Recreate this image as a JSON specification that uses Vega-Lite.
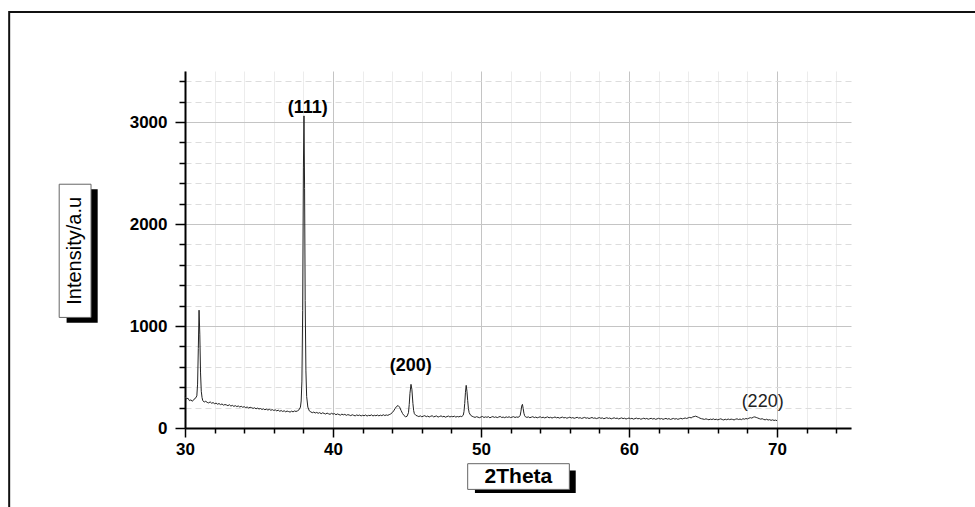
{
  "$schema": "https://vega.github.io/schema/vega-lite/v6.json",
  "width": 666,
  "height": 357,
  "autosize": {"type": "none"},
  "padding": {"left": 185, "top": 71, "right": 124, "bottom": 79},
  "background": "white",
  "config": {"view": {"stroke": null}, "font": "Liberation Sans"},
  "layer": [
    {
      "data": {"values": [{}]},
      "mark": {"type": "rect", "fill": "transparent", "stroke": "#111", "strokeWidth": 2},
      "encoding": {
        "x": {"datum": 18.12, "type": "quantitative"},
        "x2": {"datum": 85},
        "y": {"datum": 4079, "type": "quantitative"},
        "y2": {"datum": -1000}
      }
    },
    {
      "data": {"values": [{}]},
      "mark": {"type": "rect", "fill": "black"},
      "encoding": {
        "x": {"datum": 22.0, "type": "quantitative"},
        "x2": {"datum": 24.1},
        "y": {"datum": 2341, "type": "quantitative"},
        "y2": {"datum": 1031}
      }
    },
    {
      "data": {"values": [{}]},
      "mark": {"type": "rect", "fill": "white", "stroke": "#666", "strokeWidth": 1},
      "encoding": {
        "x": {"datum": 21.5, "type": "quantitative"},
        "x2": {"datum": 23.65},
        "y": {"datum": 2390, "type": "quantitative"},
        "y2": {"datum": 1084}
      }
    },
    {
      "data": {"values": [{}]},
      "mark": {"type": "rect", "fill": "black"},
      "encoding": {
        "x": {"datum": 49.59, "type": "quantitative"},
        "x2": {"datum": 56.4},
        "y": {"datum": -416, "type": "quantitative"},
        "y2": {"datum": -638}
      }
    },
    {
      "data": {"values": [{}]},
      "mark": {"type": "rect", "fill": "white", "stroke": "#666", "strokeWidth": 1},
      "encoding": {
        "x": {"datum": 49.1, "type": "quantitative"},
        "x2": {"datum": 55.97},
        "y": {"datum": -350, "type": "quantitative"},
        "y2": {"datum": -602}
      }
    },
    {
      "data": {"values": [{"title": "Intensity/a.u"}]},
      "mark": {"type": "text", "angle": 270, "font": "Liberation Sans", "fontSize": 20, "fontWeight": "normal", "color": "black", "align": "center", "baseline": "middle"},
      "encoding": {
        "x": {"datum": 22.58, "type": "quantitative"},
        "y": {"datum": 1737, "type": "quantitative"},
        "text": {"field": "title"}
      }
    },
    {
      "data": {"values": [{"title": "2Theta"}]},
      "mark": {"type": "text", "font": "Liberation Sans", "fontSize": 21, "fontWeight": "bold", "color": "black", "align": "center", "baseline": "middle"},
      "encoding": {
        "x": {"datum": 52.53, "type": "quantitative"},
        "y": {"datum": -476, "type": "quantitative"},
        "text": {"field": "title"}
      }
    },
    {
      "data": {"values": [
        {"twoTheta": 30.0, "intensity": 305}, {"twoTheta": 30.1, "intensity": 285}, {"twoTheta": 30.2, "intensity": 292}, {"twoTheta": 30.3, "intensity": 268}, {"twoTheta": 30.4, "intensity": 276}, {"twoTheta": 30.5, "intensity": 262}, {"twoTheta": 30.6, "intensity": 281}, {"twoTheta": 30.7, "intensity": 290}, {"twoTheta": 30.8, "intensity": 315},
        {"twoTheta": 30.85, "intensity": 430}, {"twoTheta": 30.9, "intensity": 780}, {"twoTheta": 30.95, "intensity": 1155}, {"twoTheta": 31.0, "intensity": 920}, {"twoTheta": 31.05, "intensity": 540}, {"twoTheta": 31.1, "intensity": 360}, {"twoTheta": 31.15, "intensity": 300},
        {"twoTheta": 31.2, "intensity": 268}, {"twoTheta": 31.3, "intensity": 255}, {"twoTheta": 31.4, "intensity": 262}, {"twoTheta": 31.5, "intensity": 251}, {"twoTheta": 31.6, "intensity": 246}, {"twoTheta": 31.7, "intensity": 256}, {"twoTheta": 31.8, "intensity": 243}, {"twoTheta": 31.9, "intensity": 249}, {"twoTheta": 32.0, "intensity": 238},
        {"twoTheta": 32.1, "intensity": 244}, {"twoTheta": 32.2, "intensity": 233}, {"twoTheta": 32.3, "intensity": 240}, {"twoTheta": 32.4, "intensity": 229}, {"twoTheta": 32.5, "intensity": 236}, {"twoTheta": 32.6, "intensity": 224}, {"twoTheta": 32.7, "intensity": 230}, {"twoTheta": 32.8, "intensity": 226}, {"twoTheta": 32.9, "intensity": 219}, {"twoTheta": 33.0, "intensity": 228},
        {"twoTheta": 33.1, "intensity": 215}, {"twoTheta": 33.2, "intensity": 222}, {"twoTheta": 33.3, "intensity": 212}, {"twoTheta": 33.4, "intensity": 219}, {"twoTheta": 33.5, "intensity": 210}, {"twoTheta": 33.6, "intensity": 216}, {"twoTheta": 33.7, "intensity": 206}, {"twoTheta": 33.8, "intensity": 213}, {"twoTheta": 33.9, "intensity": 203}, {"twoTheta": 34.0, "intensity": 209},
        {"twoTheta": 34.1, "intensity": 200}, {"twoTheta": 34.2, "intensity": 206}, {"twoTheta": 34.3, "intensity": 196}, {"twoTheta": 34.4, "intensity": 203}, {"twoTheta": 34.5, "intensity": 199}, {"twoTheta": 34.6, "intensity": 192}, {"twoTheta": 34.7, "intensity": 198}, {"twoTheta": 34.8, "intensity": 188}, {"twoTheta": 34.9, "intensity": 195}, {"twoTheta": 35.0, "intensity": 186},
        {"twoTheta": 35.1, "intensity": 191}, {"twoTheta": 35.2, "intensity": 182}, {"twoTheta": 35.3, "intensity": 188}, {"twoTheta": 35.4, "intensity": 179}, {"twoTheta": 35.5, "intensity": 185}, {"twoTheta": 35.6, "intensity": 176}, {"twoTheta": 35.7, "intensity": 183}, {"twoTheta": 35.8, "intensity": 174}, {"twoTheta": 35.9, "intensity": 180}, {"twoTheta": 36.0, "intensity": 172},
        {"twoTheta": 36.1, "intensity": 178}, {"twoTheta": 36.2, "intensity": 168}, {"twoTheta": 36.3, "intensity": 175}, {"twoTheta": 36.4, "intensity": 164}, {"twoTheta": 36.5, "intensity": 171}, {"twoTheta": 36.6, "intensity": 162}, {"twoTheta": 36.7, "intensity": 169}, {"twoTheta": 36.8, "intensity": 159}, {"twoTheta": 36.9, "intensity": 166}, {"twoTheta": 37.0, "intensity": 161},
        {"twoTheta": 37.1, "intensity": 156}, {"twoTheta": 37.2, "intensity": 165}, {"twoTheta": 37.3, "intensity": 158}, {"twoTheta": 37.4, "intensity": 167}, {"twoTheta": 37.5, "intensity": 162}, {"twoTheta": 37.6, "intensity": 168}, {"twoTheta": 37.7, "intensity": 178},
        {"twoTheta": 37.8, "intensity": 205}, {"twoTheta": 37.85, "intensity": 265}, {"twoTheta": 37.9, "intensity": 460}, {"twoTheta": 37.95, "intensity": 1150}, {"twoTheta": 38.0, "intensity": 2550}, {"twoTheta": 38.04, "intensity": 3060}, {"twoTheta": 38.08, "intensity": 2350}, {"twoTheta": 38.12, "intensity": 1250}, {"twoTheta": 38.17, "intensity": 560}, {"twoTheta": 38.22, "intensity": 310}, {"twoTheta": 38.3, "intensity": 205}, {"twoTheta": 38.4, "intensity": 168},
        {"twoTheta": 38.5, "intensity": 158}, {"twoTheta": 38.6, "intensity": 150}, {"twoTheta": 38.7, "intensity": 156}, {"twoTheta": 38.8, "intensity": 147}, {"twoTheta": 38.9, "intensity": 153}, {"twoTheta": 39.0, "intensity": 144}, {"twoTheta": 39.1, "intensity": 151}, {"twoTheta": 39.2, "intensity": 140}, {"twoTheta": 39.3, "intensity": 149}, {"twoTheta": 39.4, "intensity": 143},
        {"twoTheta": 39.5, "intensity": 137}, {"twoTheta": 39.6, "intensity": 146}, {"twoTheta": 39.7, "intensity": 139}, {"twoTheta": 39.8, "intensity": 134}, {"twoTheta": 39.9, "intensity": 144}, {"twoTheta": 40.0, "intensity": 136}, {"twoTheta": 40.1, "intensity": 141}, {"twoTheta": 40.2, "intensity": 130}, {"twoTheta": 40.3, "intensity": 138}, {"twoTheta": 40.4, "intensity": 132},
        {"twoTheta": 40.5, "intensity": 126}, {"twoTheta": 40.6, "intensity": 136}, {"twoTheta": 40.7, "intensity": 129}, {"twoTheta": 40.8, "intensity": 134}, {"twoTheta": 40.9, "intensity": 124}, {"twoTheta": 41.0, "intensity": 131}, {"twoTheta": 41.1, "intensity": 127}, {"twoTheta": 41.2, "intensity": 121}, {"twoTheta": 41.3, "intensity": 130}, {"twoTheta": 41.4, "intensity": 124},
        {"twoTheta": 41.5, "intensity": 119}, {"twoTheta": 41.6, "intensity": 128}, {"twoTheta": 41.7, "intensity": 122}, {"twoTheta": 41.8, "intensity": 127}, {"twoTheta": 41.9, "intensity": 118}, {"twoTheta": 42.0, "intensity": 125}, {"twoTheta": 42.1, "intensity": 120}, {"twoTheta": 42.2, "intensity": 128}, {"twoTheta": 42.3, "intensity": 117}, {"twoTheta": 42.4, "intensity": 124},
        {"twoTheta": 42.5, "intensity": 121}, {"twoTheta": 42.6, "intensity": 129}, {"twoTheta": 42.7, "intensity": 118}, {"twoTheta": 42.8, "intensity": 125}, {"twoTheta": 42.9, "intensity": 120}, {"twoTheta": 43.0, "intensity": 127}, {"twoTheta": 43.1, "intensity": 119}, {"twoTheta": 43.2, "intensity": 126}, {"twoTheta": 43.3, "intensity": 121}, {"twoTheta": 43.4, "intensity": 130},
        {"twoTheta": 43.5, "intensity": 122}, {"twoTheta": 43.6, "intensity": 128}, {"twoTheta": 43.7, "intensity": 124}, {"twoTheta": 43.8, "intensity": 131}, {"twoTheta": 43.9, "intensity": 138},
        {"twoTheta": 44.0, "intensity": 150}, {"twoTheta": 44.1, "intensity": 168}, {"twoTheta": 44.2, "intensity": 192}, {"twoTheta": 44.3, "intensity": 212}, {"twoTheta": 44.4, "intensity": 220}, {"twoTheta": 44.5, "intensity": 204}, {"twoTheta": 44.6, "intensity": 172}, {"twoTheta": 44.7, "intensity": 142}, {"twoTheta": 44.8, "intensity": 122}, {"twoTheta": 44.9, "intensity": 110},
        {"twoTheta": 45.0, "intensity": 114}, {"twoTheta": 45.1, "intensity": 150}, {"twoTheta": 45.15, "intensity": 230}, {"twoTheta": 45.2, "intensity": 340}, {"twoTheta": 45.27, "intensity": 428}, {"twoTheta": 45.33, "intensity": 380}, {"twoTheta": 45.4, "intensity": 240}, {"twoTheta": 45.45, "intensity": 170}, {"twoTheta": 45.5, "intensity": 140}, {"twoTheta": 45.6, "intensity": 124}, {"twoTheta": 45.7, "intensity": 118},
        {"twoTheta": 45.8, "intensity": 112}, {"twoTheta": 45.9, "intensity": 119}, {"twoTheta": 46.0, "intensity": 110}, {"twoTheta": 46.1, "intensity": 116}, {"twoTheta": 46.2, "intensity": 121}, {"twoTheta": 46.3, "intensity": 111}, {"twoTheta": 46.4, "intensity": 117}, {"twoTheta": 46.5, "intensity": 108}, {"twoTheta": 46.6, "intensity": 115}, {"twoTheta": 46.7, "intensity": 120},
        {"twoTheta": 46.8, "intensity": 109}, {"twoTheta": 46.9, "intensity": 114}, {"twoTheta": 47.0, "intensity": 118}, {"twoTheta": 47.1, "intensity": 107}, {"twoTheta": 47.2, "intensity": 113}, {"twoTheta": 47.3, "intensity": 119}, {"twoTheta": 47.4, "intensity": 110}, {"twoTheta": 47.5, "intensity": 115}, {"twoTheta": 47.6, "intensity": 106}, {"twoTheta": 47.7, "intensity": 112},
        {"twoTheta": 47.8, "intensity": 117}, {"twoTheta": 47.9, "intensity": 108}, {"twoTheta": 48.0, "intensity": 114}, {"twoTheta": 48.1, "intensity": 110}, {"twoTheta": 48.2, "intensity": 116}, {"twoTheta": 48.3, "intensity": 107}, {"twoTheta": 48.4, "intensity": 113}, {"twoTheta": 48.5, "intensity": 109}, {"twoTheta": 48.6, "intensity": 115}, {"twoTheta": 48.7, "intensity": 112},
        {"twoTheta": 48.8, "intensity": 125}, {"twoTheta": 48.85, "intensity": 160}, {"twoTheta": 48.9, "intensity": 240}, {"twoTheta": 48.95, "intensity": 350}, {"twoTheta": 49.0, "intensity": 418}, {"twoTheta": 49.05, "intensity": 360}, {"twoTheta": 49.1, "intensity": 270}, {"twoTheta": 49.15, "intensity": 190}, {"twoTheta": 49.2, "intensity": 150}, {"twoTheta": 49.3, "intensity": 125}, {"twoTheta": 49.4, "intensity": 115},
        {"twoTheta": 49.5, "intensity": 109}, {"twoTheta": 49.6, "intensity": 104}, {"twoTheta": 49.7, "intensity": 111}, {"twoTheta": 49.8, "intensity": 106}, {"twoTheta": 49.9, "intensity": 101}, {"twoTheta": 50.0, "intensity": 108}, {"twoTheta": 50.1, "intensity": 113}, {"twoTheta": 50.2, "intensity": 103}, {"twoTheta": 50.3, "intensity": 109}, {"twoTheta": 50.4, "intensity": 105},
        {"twoTheta": 50.5, "intensity": 111}, {"twoTheta": 50.6, "intensity": 100}, {"twoTheta": 50.7, "intensity": 107}, {"twoTheta": 50.8, "intensity": 112}, {"twoTheta": 50.9, "intensity": 104}, {"twoTheta": 51.0, "intensity": 109}, {"twoTheta": 51.1, "intensity": 102}, {"twoTheta": 51.2, "intensity": 108}, {"twoTheta": 51.3, "intensity": 113}, {"twoTheta": 51.4, "intensity": 103},
        {"twoTheta": 51.5, "intensity": 107}, {"twoTheta": 51.6, "intensity": 101}, {"twoTheta": 51.7, "intensity": 109}, {"twoTheta": 51.8, "intensity": 104}, {"twoTheta": 51.9, "intensity": 110}, {"twoTheta": 52.0, "intensity": 102}, {"twoTheta": 52.1, "intensity": 107}, {"twoTheta": 52.2, "intensity": 111}, {"twoTheta": 52.3, "intensity": 103}, {"twoTheta": 52.4, "intensity": 108},
        {"twoTheta": 52.5, "intensity": 105}, {"twoTheta": 52.6, "intensity": 112},
        {"twoTheta": 52.65, "intensity": 125}, {"twoTheta": 52.7, "intensity": 165}, {"twoTheta": 52.75, "intensity": 215}, {"twoTheta": 52.8, "intensity": 232}, {"twoTheta": 52.85, "intensity": 190}, {"twoTheta": 52.9, "intensity": 145}, {"twoTheta": 52.95, "intensity": 120}, {"twoTheta": 53.0, "intensity": 110},
        {"twoTheta": 53.1, "intensity": 104}, {"twoTheta": 53.2, "intensity": 109}, {"twoTheta": 53.3, "intensity": 101}, {"twoTheta": 53.4, "intensity": 106}, {"twoTheta": 53.5, "intensity": 111}, {"twoTheta": 53.6, "intensity": 102}, {"twoTheta": 53.7, "intensity": 107}, {"twoTheta": 53.8, "intensity": 100}, {"twoTheta": 53.9, "intensity": 105}, {"twoTheta": 54.0, "intensity": 110},
        {"twoTheta": 54.1, "intensity": 101}, {"twoTheta": 54.2, "intensity": 106}, {"twoTheta": 54.3, "intensity": 99}, {"twoTheta": 54.4, "intensity": 104}, {"twoTheta": 54.5, "intensity": 109}, {"twoTheta": 54.6, "intensity": 100}, {"twoTheta": 54.7, "intensity": 105}, {"twoTheta": 54.8, "intensity": 98}, {"twoTheta": 54.9, "intensity": 103}, {"twoTheta": 55.0, "intensity": 108},
        {"twoTheta": 55.1, "intensity": 100}, {"twoTheta": 55.2, "intensity": 104}, {"twoTheta": 55.3, "intensity": 97}, {"twoTheta": 55.4, "intensity": 102}, {"twoTheta": 55.5, "intensity": 107}, {"twoTheta": 55.6, "intensity": 99}, {"twoTheta": 55.7, "intensity": 103}, {"twoTheta": 55.8, "intensity": 96}, {"twoTheta": 55.9, "intensity": 101}, {"twoTheta": 56.0, "intensity": 106},
        {"twoTheta": 56.1, "intensity": 98}, {"twoTheta": 56.2, "intensity": 102}, {"twoTheta": 56.3, "intensity": 95}, {"twoTheta": 56.4, "intensity": 100}, {"twoTheta": 56.5, "intensity": 105}, {"twoTheta": 56.6, "intensity": 97}, {"twoTheta": 56.7, "intensity": 101}, {"twoTheta": 56.8, "intensity": 94}, {"twoTheta": 56.9, "intensity": 99}, {"twoTheta": 57.0, "intensity": 104},
        {"twoTheta": 57.1, "intensity": 96}, {"twoTheta": 57.2, "intensity": 100}, {"twoTheta": 57.3, "intensity": 93}, {"twoTheta": 57.4, "intensity": 98}, {"twoTheta": 57.5, "intensity": 103}, {"twoTheta": 57.6, "intensity": 95}, {"twoTheta": 57.7, "intensity": 99}, {"twoTheta": 57.8, "intensity": 92}, {"twoTheta": 57.9, "intensity": 97}, {"twoTheta": 58.0, "intensity": 102},
        {"twoTheta": 58.1, "intensity": 95}, {"twoTheta": 58.2, "intensity": 99}, {"twoTheta": 58.3, "intensity": 91}, {"twoTheta": 58.4, "intensity": 96}, {"twoTheta": 58.5, "intensity": 101}, {"twoTheta": 58.6, "intensity": 94}, {"twoTheta": 58.7, "intensity": 98}, {"twoTheta": 58.8, "intensity": 90}, {"twoTheta": 58.9, "intensity": 95}, {"twoTheta": 59.0, "intensity": 100},
        {"twoTheta": 59.1, "intensity": 93}, {"twoTheta": 59.2, "intensity": 97}, {"twoTheta": 59.3, "intensity": 89}, {"twoTheta": 59.4, "intensity": 94}, {"twoTheta": 59.5, "intensity": 99}, {"twoTheta": 59.6, "intensity": 92}, {"twoTheta": 59.7, "intensity": 96}, {"twoTheta": 59.8, "intensity": 88}, {"twoTheta": 59.9, "intensity": 93}, {"twoTheta": 60.0, "intensity": 98},
        {"twoTheta": 60.1, "intensity": 91}, {"twoTheta": 60.2, "intensity": 95}, {"twoTheta": 60.3, "intensity": 87}, {"twoTheta": 60.4, "intensity": 92}, {"twoTheta": 60.5, "intensity": 97}, {"twoTheta": 60.6, "intensity": 90}, {"twoTheta": 60.7, "intensity": 94}, {"twoTheta": 60.8, "intensity": 86}, {"twoTheta": 60.9, "intensity": 91}, {"twoTheta": 61.0, "intensity": 96},
        {"twoTheta": 61.1, "intensity": 89}, {"twoTheta": 61.2, "intensity": 94}, {"twoTheta": 61.3, "intensity": 86}, {"twoTheta": 61.4, "intensity": 91}, {"twoTheta": 61.5, "intensity": 95}, {"twoTheta": 61.6, "intensity": 88}, {"twoTheta": 61.7, "intensity": 93}, {"twoTheta": 61.8, "intensity": 85}, {"twoTheta": 61.9, "intensity": 90}, {"twoTheta": 62.0, "intensity": 95},
        {"twoTheta": 62.1, "intensity": 88}, {"twoTheta": 62.2, "intensity": 93}, {"twoTheta": 62.3, "intensity": 85}, {"twoTheta": 62.4, "intensity": 90}, {"twoTheta": 62.5, "intensity": 94}, {"twoTheta": 62.6, "intensity": 87}, {"twoTheta": 62.7, "intensity": 92}, {"twoTheta": 62.8, "intensity": 84}, {"twoTheta": 62.9, "intensity": 89}, {"twoTheta": 63.0, "intensity": 94},
        {"twoTheta": 63.1, "intensity": 87}, {"twoTheta": 63.2, "intensity": 92}, {"twoTheta": 63.3, "intensity": 85}, {"twoTheta": 63.4, "intensity": 90}, {"twoTheta": 63.5, "intensity": 95}, {"twoTheta": 63.6, "intensity": 89}, {"twoTheta": 63.7, "intensity": 94}, {"twoTheta": 63.8, "intensity": 98}, {"twoTheta": 63.9, "intensity": 93}, {"twoTheta": 64.0, "intensity": 100},
        {"twoTheta": 64.1, "intensity": 104}, {"twoTheta": 64.2, "intensity": 99}, {"twoTheta": 64.3, "intensity": 108}, {"twoTheta": 64.4, "intensity": 112}, {"twoTheta": 64.5, "intensity": 116}, {"twoTheta": 64.6, "intensity": 110}, {"twoTheta": 64.7, "intensity": 104}, {"twoTheta": 64.8, "intensity": 96}, {"twoTheta": 64.9, "intensity": 91}, {"twoTheta": 65.0, "intensity": 88},
        {"twoTheta": 65.1, "intensity": 84}, {"twoTheta": 65.2, "intensity": 90}, {"twoTheta": 65.3, "intensity": 85}, {"twoTheta": 65.4, "intensity": 81}, {"twoTheta": 65.5, "intensity": 87}, {"twoTheta": 65.6, "intensity": 83}, {"twoTheta": 65.7, "intensity": 89}, {"twoTheta": 65.8, "intensity": 82}, {"twoTheta": 65.9, "intensity": 86}, {"twoTheta": 66.0, "intensity": 80},
        {"twoTheta": 66.1, "intensity": 85}, {"twoTheta": 66.2, "intensity": 90}, {"twoTheta": 66.3, "intensity": 83}, {"twoTheta": 66.4, "intensity": 79}, {"twoTheta": 66.5, "intensity": 86}, {"twoTheta": 66.6, "intensity": 81}, {"twoTheta": 66.7, "intensity": 88}, {"twoTheta": 66.8, "intensity": 82}, {"twoTheta": 66.9, "intensity": 87}, {"twoTheta": 67.0, "intensity": 84},
        {"twoTheta": 67.1, "intensity": 79}, {"twoTheta": 67.2, "intensity": 86}, {"twoTheta": 67.3, "intensity": 90}, {"twoTheta": 67.4, "intensity": 83}, {"twoTheta": 67.5, "intensity": 88}, {"twoTheta": 67.6, "intensity": 82}, {"twoTheta": 67.7, "intensity": 91}, {"twoTheta": 67.8, "intensity": 86}, {"twoTheta": 67.9, "intensity": 93}, {"twoTheta": 68.0, "intensity": 89},
        {"twoTheta": 68.1, "intensity": 96}, {"twoTheta": 68.2, "intensity": 101}, {"twoTheta": 68.3, "intensity": 97}, {"twoTheta": 68.4, "intensity": 106}, {"twoTheta": 68.5, "intensity": 109}, {"twoTheta": 68.6, "intensity": 103}, {"twoTheta": 68.7, "intensity": 98}, {"twoTheta": 68.8, "intensity": 92}, {"twoTheta": 68.9, "intensity": 87}, {"twoTheta": 69.0, "intensity": 91},
        {"twoTheta": 69.1, "intensity": 84}, {"twoTheta": 69.2, "intensity": 80}, {"twoTheta": 69.3, "intensity": 86}, {"twoTheta": 69.4, "intensity": 78}, {"twoTheta": 69.5, "intensity": 82}, {"twoTheta": 69.6, "intensity": 75}, {"twoTheta": 69.7, "intensity": 80}, {"twoTheta": 69.8, "intensity": 74}, {"twoTheta": 69.9, "intensity": 77}, {"twoTheta": 70.0, "intensity": 72}
      ]},
      "mark": {"type": "line", "color": "#222", "strokeWidth": 1, "interpolate": "linear"},
      "encoding": {
        "x": {
          "field": "twoTheta", "type": "quantitative",
          "scale": {"domain": [30, 75], "nice": false, "zero": false},
          "axis": {
            "title": null,
            "values": [30, 32, 34, 36, 38, 40, 42, 44, 46, 48, 50, 52, 54, 56, 58, 60, 62, 64, 66, 68, 70, 72, 74],
            "tickCount": 100,
            "format": "d",
            "labelExpr": "datum.value % 10 === 0 ? datum.label : ''",
            "labelOverlap": false,
            "labelFont": "Liberation Sans", "labelFontSize": 17, "labelFontWeight": "bold", "labelColor": "black",
            "labelPadding": 4, "labelFlush": false,
            "domainColor": "black", "domainWidth": 2,
            "tickColor": "black", "tickWidth": 1.5,
            "tickSize": {"condition": {"test": "datum.value % 10 === 0", "value": 9}, "value": 5},
            "grid": true,
            "gridColor": {"condition": {"test": "datum.value % 10 === 0", "value": "#c4c4c4"}, "value": "#ececec"},
            "gridWidth": 1
          }
        },
        "y": {
          "field": "intensity", "type": "quantitative",
          "scale": {"domain": [0, 3500], "nice": false, "zero": true},
          "axis": {
            "title": null,
            "values": [0, 200, 400, 600, 800, 1000, 1200, 1400, 1600, 1800, 2000, 2200, 2400, 2600, 2800, 3000, 3200, 3400],
            "tickCount": 100,
            "labelExpr": "datum.value % 1000 === 0 ? datum.label : ''",
            "labelOverlap": false,
            "format": "d",
            "labelFont": "Liberation Sans", "labelFontSize": 17, "labelFontWeight": "bold", "labelColor": "black",
            "labelPadding": 8, "labelFlush": false,
            "domainColor": "black", "domainWidth": 2,
            "tickColor": "black", "tickWidth": 1.5,
            "tickSize": {"condition": {"test": "datum.value % 1000 === 0", "value": 10}, "value": 6},
            "grid": true,
            "gridColor": {"condition": {"test": "datum.value % 1000 === 0", "value": "#c4c4c4"}, "value": "#dddddd"},
            "gridDash": {"condition": {"test": "datum.value % 1000 === 0", "value": []}, "value": [6, 4]},
            "gridWidth": 1
          }
        }
      }
    },
    {
      "data": {"values": [
        {"label": "(111)", "twoTheta": 38.3, "intensity": 3137},
        {"label": "(200)", "twoTheta": 45.26, "intensity": 605}
      ]},
      "mark": {"type": "text", "font": "Liberation Sans", "fontSize": 18, "fontWeight": "bold", "color": "black", "align": "center", "baseline": "middle"},
      "encoding": {
        "x": {"field": "twoTheta", "type": "quantitative"},
        "y": {"field": "intensity", "type": "quantitative"},
        "text": {"field": "label"}
      }
    },
    {
      "data": {"values": [
        {"label": "(220)", "twoTheta": 69.03, "intensity": 252}
      ]},
      "mark": {"type": "text", "font": "Liberation Sans", "fontSize": 18, "fontWeight": "normal", "color": "#222", "align": "center", "baseline": "middle"},
      "encoding": {
        "x": {"field": "twoTheta", "type": "quantitative"},
        "y": {"field": "intensity", "type": "quantitative"},
        "text": {"field": "label"}
      }
    }
  ]
}
